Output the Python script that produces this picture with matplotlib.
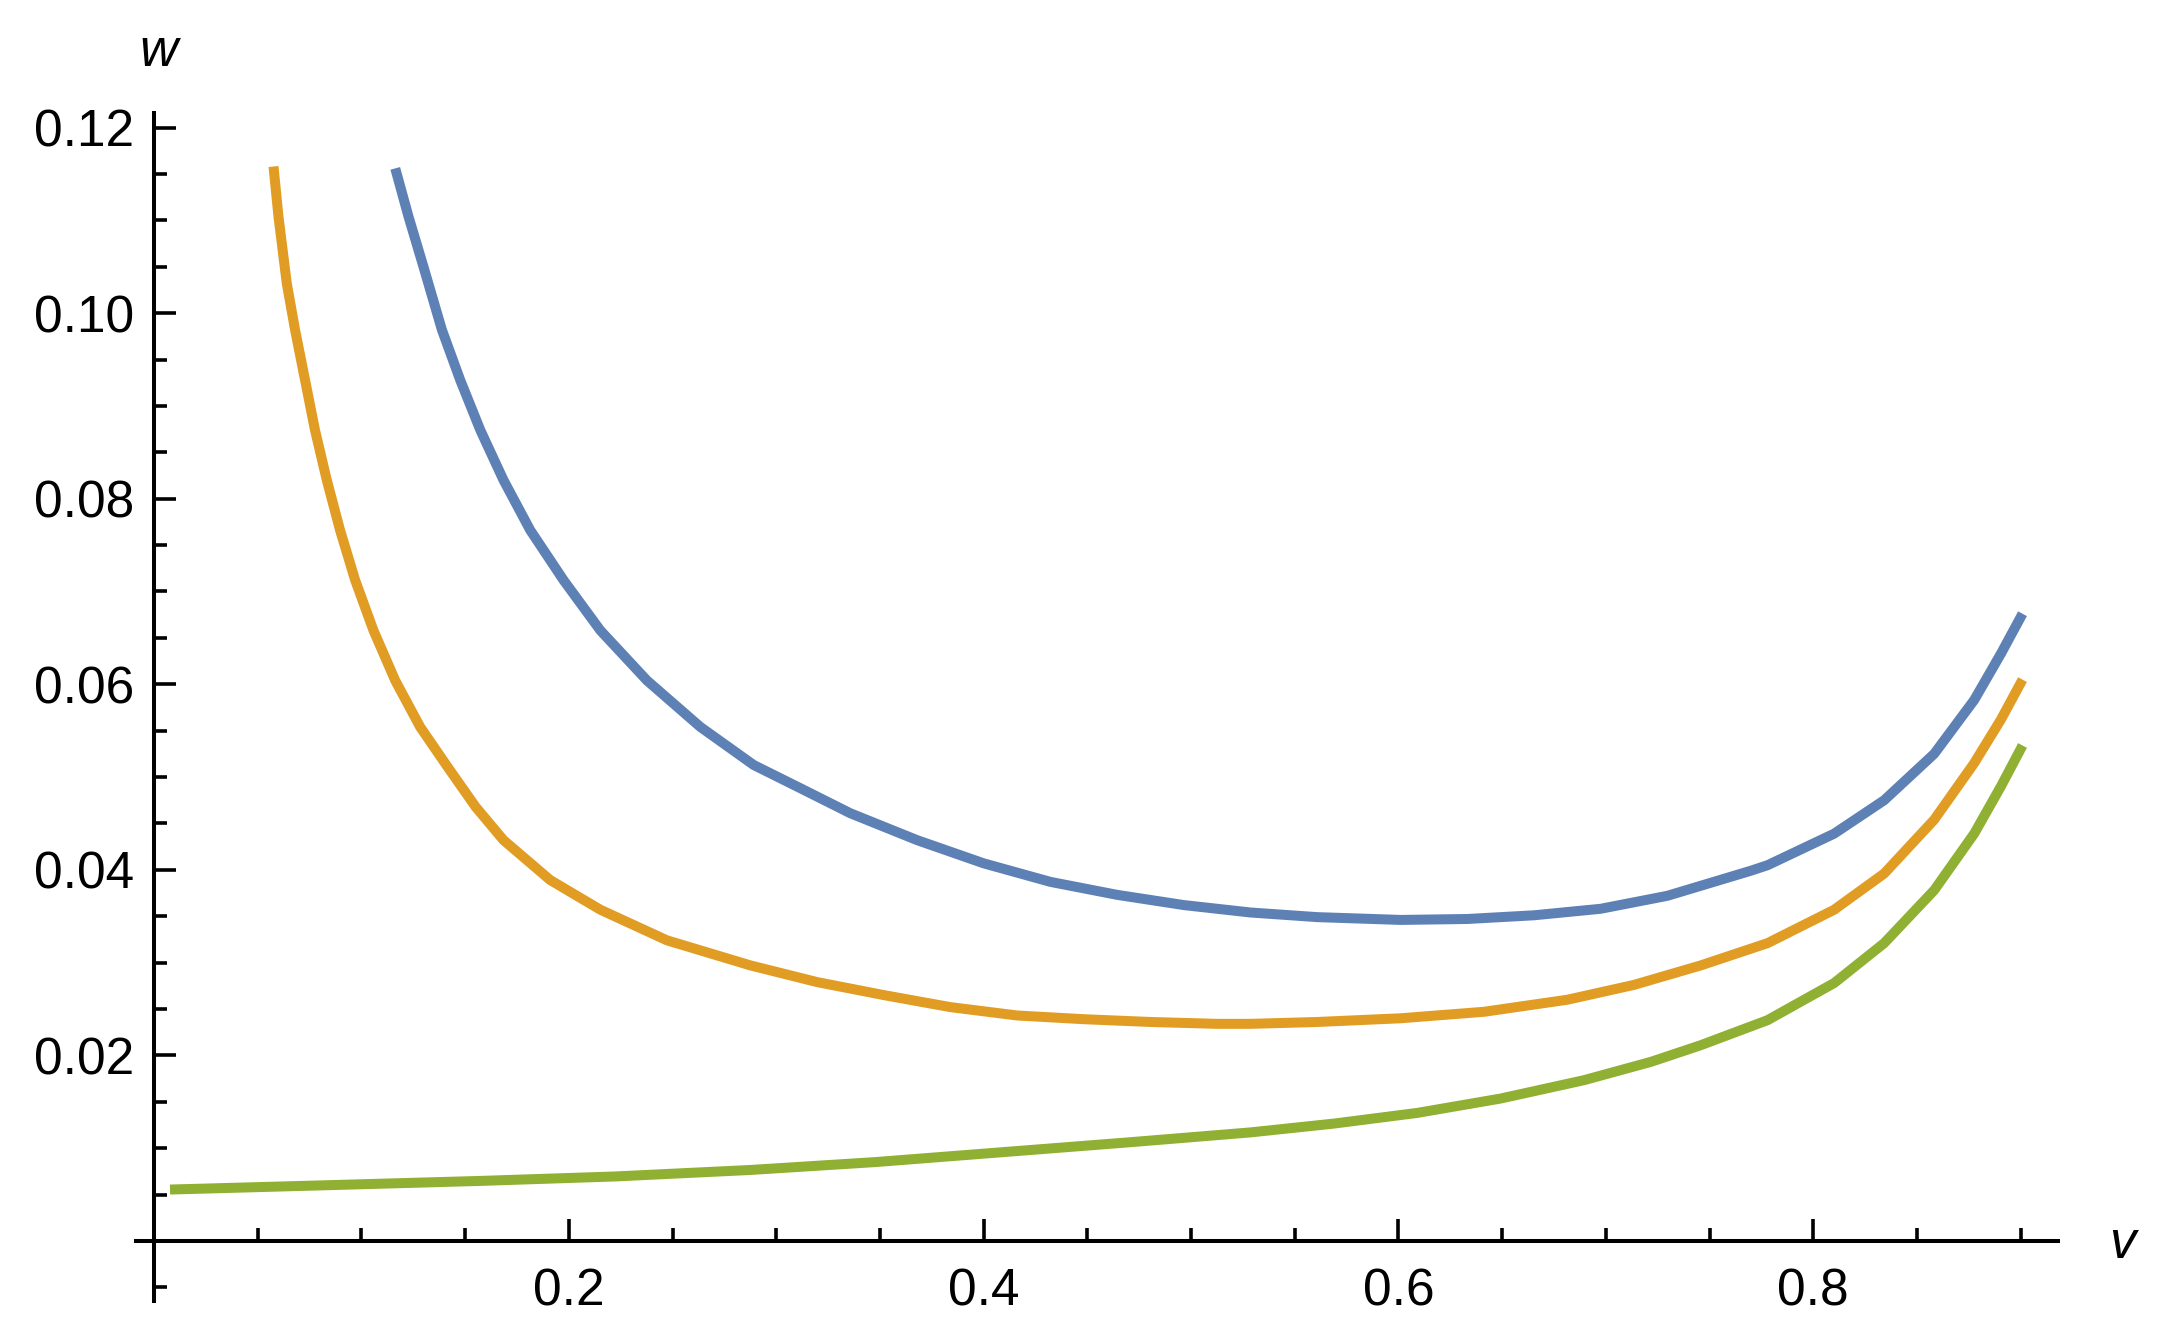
import matplotlib.pyplot as plt
from matplotlib.ticker import FixedLocator

plt.rcParams['font.family'] = ['Liberation Sans', 'DejaVu Sans']

# values
blue_v = [0.1163, 0.1227, 0.1299, 0.1388, 0.1476, 0.1573, 0.1685, 0.1814, 0.1975, 0.2152,
          0.2377, 0.2634, 0.2891, 0.3116, 0.3357, 0.3679, 0.4000, 0.4322, 0.4644, 0.4965,
          0.5287, 0.5609, 0.6011, 0.6332, 0.6654, 0.6975, 0.7297, 0.7699, 0.7780, 0.8101,
          0.8342, 0.8583, 0.8776, 0.8905, 0.9009]
blue_w = [0.1156, 0.1104, 0.1050, 0.0982, 0.0928, 0.0874, 0.0820, 0.0766, 0.0712, 0.0658,
          0.0604, 0.0554, 0.0513, 0.0488, 0.0461, 0.0432, 0.0407, 0.0387, 0.0373, 0.0362,
          0.0354, 0.0349, 0.0346, 0.0347, 0.0351, 0.0358, 0.0372, 0.0399, 0.0405, 0.0439,
          0.0475, 0.0525, 0.0583, 0.0633, 0.0676]

orange_v = [0.0576, 0.0600, 0.0640, 0.0680, 0.0728, 0.0776, 0.0833, 0.0897, 0.0970, 0.1058,
            0.1163, 0.1283, 0.1412, 0.1550, 0.1685, 0.1910, 0.2152, 0.2473, 0.2875, 0.3197,
            0.3518, 0.3840, 0.4162, 0.4483, 0.4805, 0.5126, 0.5287, 0.5609, 0.6011, 0.6413,
            0.6815, 0.7136, 0.7458, 0.7780, 0.8101, 0.8342, 0.8583, 0.8776, 0.8905, 0.9009]
orange_w = [0.1158, 0.1104, 0.1032, 0.0982, 0.0928, 0.0874, 0.0820, 0.0766, 0.0712, 0.0658,
            0.0604, 0.0554, 0.0512, 0.0468, 0.0432, 0.0389, 0.0357, 0.0324, 0.0297, 0.0279,
            0.0265, 0.0252, 0.0243, 0.0239, 0.0236, 0.0234, 0.0234, 0.0236, 0.0240, 0.0247,
            0.0260, 0.0276, 0.0297, 0.0321, 0.0357, 0.0396, 0.0454, 0.0515, 0.0562, 0.0605]

green_v = [0.0077, 0.0825, 0.1573, 0.2223, 0.2875, 0.3478, 0.4081, 0.4684, 0.5287, 0.5689,
           0.6091, 0.6493, 0.6895, 0.7217, 0.7458, 0.7780, 0.8101, 0.8342, 0.8583, 0.8776,
           0.8905, 0.9009]
green_w = [0.00554, 0.0060, 0.00647, 0.00695, 0.00765, 0.0085, 0.00955, 0.0106, 0.0117, 0.01265,
           0.0138, 0.01535, 0.01733, 0.01930, 0.02110, 0.0238, 0.0278, 0.0321, 0.0378, 0.0439,
           0.0490, 0.0534]

x_major = [0.2, 0.4, 0.6, 0.8]
y_major = [0.02, 0.04, 0.06, 0.08, 0.10, 0.12]

fig = plt.figure(figsize=(21.61, 13.25), dpi=100)
ax = fig.add_axes([0.06293, 0.01834, 0.8894, 0.8966])

ax.plot(blue_v, blue_w, color='#5E81B5', lw=7.2, solid_capstyle='butt', solid_joinstyle='round')
ax.plot(orange_v, orange_w, color='#E19C24', lw=7.2, solid_capstyle='butt', solid_joinstyle='round')
ax.plot(green_v, green_w, color='#8FB032', lw=7.2, solid_capstyle='butt', solid_joinstyle='round')

ax.set_xlim(-0.0087, 0.918)
ax.set_ylim(-0.00644, 0.1216)

# Mathematica-style axes crossing at the origin
for s in ['top', 'right']:
    ax.spines[s].set_visible(False)
ax.spines['left'].set_position(('data', 0))
ax.spines['bottom'].set_position(('data', 0))
for s in ['left', 'bottom']:
    ax.spines[s].set_linewidth(2.9)

ax.xaxis.set_major_locator(FixedLocator(x_major))
ax.yaxis.set_major_locator(FixedLocator(y_major))
x_minor = [k * 0.05 for k in range(1, 19) if k % 4 != 0]
y_minor = [k * 0.005 for k in range(-1, 25) if k % 4 != 0]
ax.xaxis.set_minor_locator(FixedLocator(x_minor))
ax.yaxis.set_minor_locator(FixedLocator(y_minor))
ax.set_xticklabels([f"{t:.1f}" for t in x_major])
ax.set_yticklabels([f"{t:.2f}" for t in y_major])

ax.tick_params(axis='both', which='major', direction='in', length=16, width=2.6, labelsize=37)
ax.tick_params(axis='both', which='minor', direction='in', length=9.7, width=2.6)
ax.tick_params(axis='x', which='major', pad=19)
ax.tick_params(axis='y', which='major', pad=14)

fig.text(158 / 2161, 1 - 52 / 1325, 'w', fontsize=38, style='italic', ha='center', va='center')
fig.text(2122 / 2161, 1 - 1244 / 1325, 'v', fontsize=38, style='italic', ha='center', va='center')

fig.savefig('out.png', dpi=100, facecolor='white')
